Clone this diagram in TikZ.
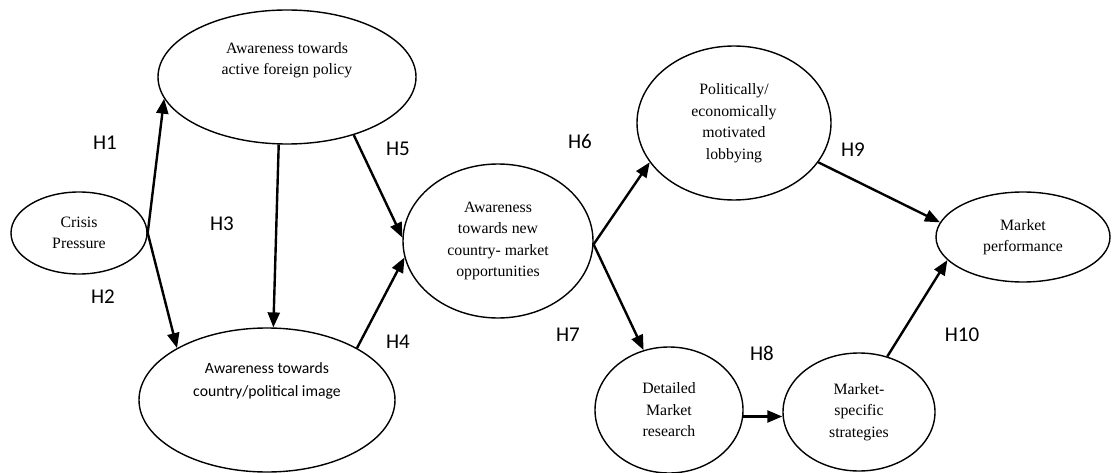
\documentclass[tikz,border=0pt]{standalone}
\usepackage{fontspec}
\setmainfont{Liberation Serif}
\newfontfamily\calibri{Carlito}
\usetikzlibrary{shapes.geometric, arrows.meta}

\begin{document}
\begin{tikzpicture}[x=1pt, y=-1pt,
  oval/.style={draw, ellipse, line width=1.4pt, inner sep=0pt, align=center,
    font=\fontsize{15.8}{21.5}\selectfont},
  txt/.style={align=center, inner sep=0pt},
  hyp/.style={font=\calibri\fontsize{21}{24}\selectfont, inner sep=0pt},
  arr/.style={line width=2.4pt, -{Triangle[length=15pt,width=12pt]}}]
\useasboundingbox (0,0) rectangle (1113,473);

\node[oval, minimum width=136, minimum height=82] (crisis) at (79,233) {Crisis\\Pressure};
\node[oval, minimum width=258, minimum height=134] (afp) at (287,77) {};
\node[txt, font=\fontsize{15.8}{21.5}\selectfont] (afptext) at ([yshift=17]afp.center) {Awareness towards\\active foreign policy};
\node[oval, minimum width=256, minimum height=144] (cpi) at (267,400) {};
\node[txt, font=\calibri\fontsize{15.7}{23}\selectfont] (cpitext) at ([yshift=19]cpi.center) {Awareness towards\\country/political image};
\node[oval, minimum width=190, minimum height=154] (opp) at (498,241) {Awareness\\towards new\\country- market\\opportunities};
\node[oval, minimum width=194, minimum height=154] (lobby) at (734,123) {Politically/\\economically\\motivated\\lobbying};
\node[oval, minimum width=174, minimum height=90] (mp) at (1023,237) {Market\\performance};
\node[oval, minimum width=148, minimum height=126] (dmr) at (669,410) {Detailed\\Market\\research};
\node[oval, minimum width=152, minimum height=118] (mss) at (859,412) {Market-\\specific\\strategies};

% hypotheses
\node[hyp] (h1) at (105,143) {H1};
\node[hyp] (h2) at (103,297) {H2};
\node[hyp] (h3) at (222,224) {H3};
\node[hyp] (h4) at (398,342) {H4};
\node[hyp] (h5) at (398,149) {H5};
\node[hyp] (h6) at (580,141) {H6};
\node[hyp] (h7) at (568,335) {H7};
\node[hyp] (h8) at (762,353) {H8};
\node[hyp] (h9) at (853,150) {H9};
\node[hyp] (h10) at (962,335) {H10};

\draw[arr] (crisis.east) -- (afp.190);
\draw[arr] (crisis.east) -- (cpi.150);
\draw[arr] (afp.263) -- (cpi.85);
\draw[arr] (afp.-41) -- (opp.178);
\draw[arr] (cpi.30) -- (opp.190);
\draw[arr] (opp.-2) -- (lobby.205);
\draw[arr] (opp.-2) -- (dmr.113);
\draw[arr] (dmr.-5) -- (dmr.-5 -| mss.west);
\draw[arr] (lobby.-25) -- (mp.170);
\draw[arr] (mss.63) -- (mp.197);
\end{tikzpicture}
\end{document}
